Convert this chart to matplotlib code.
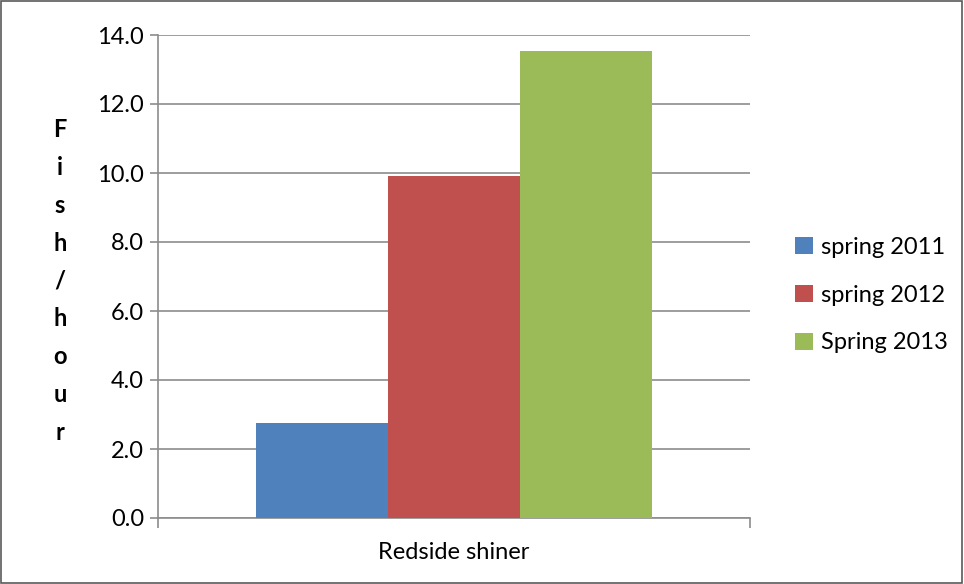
import numpy as np
import matplotlib.pyplot as plt
from matplotlib.patches import Rectangle

plt.rcParams['font.family'] = ['Lato', 'DejaVu Sans']

category = "Redside shiner"
series = ["spring 2011", "spring 2012", "Spring 2013"]
values = [2.75, 9.91, 13.54]
colors = ["#4f81bd", "#c0504d", "#9bbb59"]
yticks = [0, 2, 4, 6, 8, 10, 12, 14]

fig = plt.figure(figsize=(9.64, 5.84), dpi=100)
ax = fig.add_axes([158 / 964, 1 - 518 / 584, 592 / 964, 483 / 584])

width = 0.2225
offsets = (np.arange(len(series)) - 1) * width
for off, val, col, name in zip(offsets, values, colors, series):
    ax.bar(off, val, width=width, color=col, label=name, zorder=3)

ax.set_xlim(-0.5, 0.5)
ax.set_ylim(0, 14)
ax.set_yticks(yticks)
ax.set_yticklabels([f"{v:.1f}" for v in yticks], fontsize=17)
ax.yaxis.grid(True, color="#8c8c8c", linewidth=1.2, zorder=0)

# category tick marks sit at the edges of the group
ax.set_xticks([-0.5, 0.5])
ax.set_xticklabels(["", ""])
ax.tick_params(axis="x", length=7, color="#8c8c8c", width=1.2)
ax.tick_params(axis="y", length=6, color="#8c8c8c", width=1.2, pad=4)
ax.text(0, -0.05, category, transform=ax.get_xaxis_transform(),
        ha="center", va="top", fontsize=17)

for side in ["top", "right"]:
    ax.spines[side].set_visible(False)
for side in ["left", "bottom"]:
    ax.spines[side].set_color("#8c8c8c")
    ax.spines[side].set_linewidth(1.2)

# vertical stacked axis title
fig.text(60 / 964, 1 - 281 / 584, "\n".join("Fish/hour"), ha="center", va="center",
         fontsize=17, fontweight="bold", linespacing=1.78)

leg = ax.legend(loc="center left", bbox_to_anchor=(795 / 964, 1 - 295 / 584),
                bbox_transform=fig.transFigure, frameon=False, fontsize=17,
                handlelength=0.75, handleheight=0.75, handletextpad=0.35,
                labelspacing=1.14, borderpad=0, borderaxespad=0)

fig.patches.append(Rectangle((0.001, 0.002), 0.997, 0.996, transform=fig.transFigure,
                             fill=False, edgecolor="#5a5a5a", linewidth=1.2))

fig.savefig("out.png", dpi=100)
